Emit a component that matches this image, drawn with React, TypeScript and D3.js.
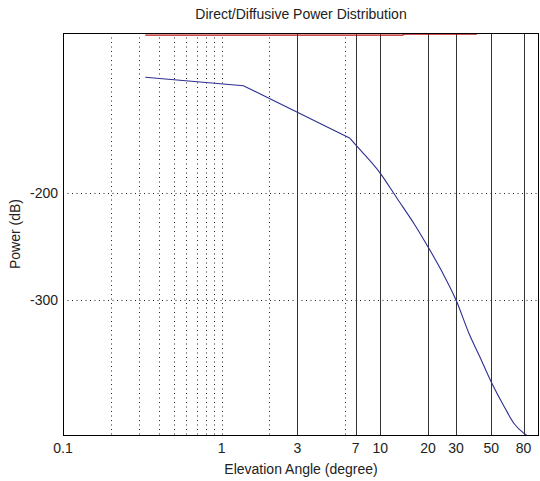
import React from "react";
import * as d3 from "d3";

const xTickValues = [0.1, 1, 3, 7, 10, 20, 30, 50, 80];
const yTickValues = [-200, -300];
const dottedGridX = [0.2, 0.3, 0.4, 0.5, 0.6, 0.7, 0.8, 0.9, 1, 2, 6];
const solidGridX = [3, 7, 10, 20, 30, 50, 80];

// diffuse power: straight part (low angles) and curved part (high angles)
const diffuseLowAngles = [0.33, 1.37, 6.44];
const diffuseLowPower = [-91.5, -99.4, -148.8];
const diffuseHighAngles = [6.44, 7, 10, 12.7, 16.5, 20, 24.5, 30, 36.5, 42, 50, 61, 70, 80, 85];
const diffuseHighPower = [-148.8, -155, -181.6, -204.7, -230, -250.7, -274, -300.4, -333, -352.4, -377.3, -401.7, -416.7, -425.2, -428];

const directAngles = [0.33, 13.9, 14, 40.6];
const directPower = [-52, -52, -51, -51];

const W = 540;
const H = 481;
const M = { left: 63, right: 539, top: 33, bottom: 435 };
const FONT = "'Liberation Sans', Arial, Helvetica, sans-serif";

export default function App() {
  const x = d3.scaleLog().domain([0.1, 100]).range([M.left, M.right]);
  const y = d3.scaleLinear().domain([-427, -50]).range([M.bottom, M.top]);
  const px = (v: number) => Math.round(x(v)) + 0.5;
  const py = (v: number) => Math.round(y(v)) + 0.5;

  const lineLinear = d3
    .line<[number, number]>()
    .x((d) => x(d[0]))
    .y((d) => y(d[1]))
    .curve(d3.curveLinear);
  const lineSmooth = d3
    .line<[number, number]>()
    .x((d) => x(d[0]))
    .y((d) => y(d[1]))
    .curve(d3.curveMonotoneX);

  const diffuseLow: [number, number][] = diffuseLowAngles.map((a, i) => [a, diffuseLowPower[i]]);
  const diffuseHigh: [number, number][] = diffuseHighAngles.map((a, i) => [a, diffuseHighPower[i]]);
  const direct: [number, number][] = directAngles.map((a, i) => [a, directPower[i]]);

  return (
    <svg
      width={W}
      height={H}
      style={{ position: "absolute", left: 0, top: 0, display: "block", background: "#fff" }}
    >
      <rect x={0} y={0} width={W} height={H} fill="#fff" />
      <defs>
        <clipPath id="plotclip">
          <rect x={M.left} y={M.top} width={M.right - M.left} height={M.bottom - M.top} />
        </clipPath>
      </defs>
      {dottedGridX.map((v) => (
        <line
          key={"dg" + v}
          x1={px(v)}
          x2={px(v)}
          y1={M.top}
          y2={M.bottom}
          stroke="#222"
          strokeWidth={1}
          strokeDasharray="1,3.5"
        />
      ))}
      {yTickValues.map((v) => (
        <line
          key={"hg" + v}
          x1={M.left}
          x2={M.right}
          y1={py(v)}
          y2={py(v)}
          stroke="#222"
          strokeWidth={1}
          strokeDasharray="1,3.5"
        />
      ))}
      {solidGridX.map((v) => (
        <line
          key={"sg" + v}
          x1={px(v)}
          x2={px(v)}
          y1={M.top}
          y2={M.bottom}
          stroke="#333"
          strokeWidth={1}
        />
      ))}
      <g clipPath="url(#plotclip)">
        <path d={lineLinear(direct) || ""} fill="none" stroke="#b81414" strokeWidth={1.2} />
        <path d={lineLinear(diffuseLow) || ""} fill="none" stroke="#2e2e94" strokeWidth={1.1} />
        <path d={lineSmooth(diffuseHigh) || ""} fill="none" stroke="#2e2e94" strokeWidth={1.1} />
      </g>
      <rect
        x={M.left + 0.5}
        y={M.top + 0.5}
        width={M.right - M.left - 1}
        height={M.bottom - M.top}
        fill="none"
        stroke="#000"
        strokeWidth={1}
      />
      {xTickValues.map((v) => (
        <text
          key={"xt" + v}
          x={x(v)}
          y={453}
          textAnchor="middle"
          fontFamily={FONT}
          fontSize={14}
          fill="#222"
        >
          {String(v)}
        </text>
      ))}
      {yTickValues.map((v) => (
        <text
          key={"yt" + v}
          x={58}
          y={y(v) + 5}
          textAnchor="end"
          fontFamily={FONT}
          fontSize={14}
          fill="#222"
        >
          {String(v)}
        </text>
      ))}
      <text
        x={(M.left + M.right) / 2}
        y={19}
        textAnchor="middle"
        fontFamily={FONT}
        fontSize={14}
        fill="#222"
      >
        Direct/Diffusive Power Distribution
      </text>
      <text
        x={(M.left + M.right) / 2}
        y={474}
        textAnchor="middle"
        fontFamily={FONT}
        fontSize={14}
        fill="#222"
      >
        Elevation Angle (degree)
      </text>
      <text
        transform={`translate(20, ${(M.top + M.bottom) / 2}) rotate(-90)`}
        textAnchor="middle"
        fontFamily={FONT}
        fontSize={14}
        fill="#222"
      >
        Power (dB)
      </text>
    </svg>
  );
}
